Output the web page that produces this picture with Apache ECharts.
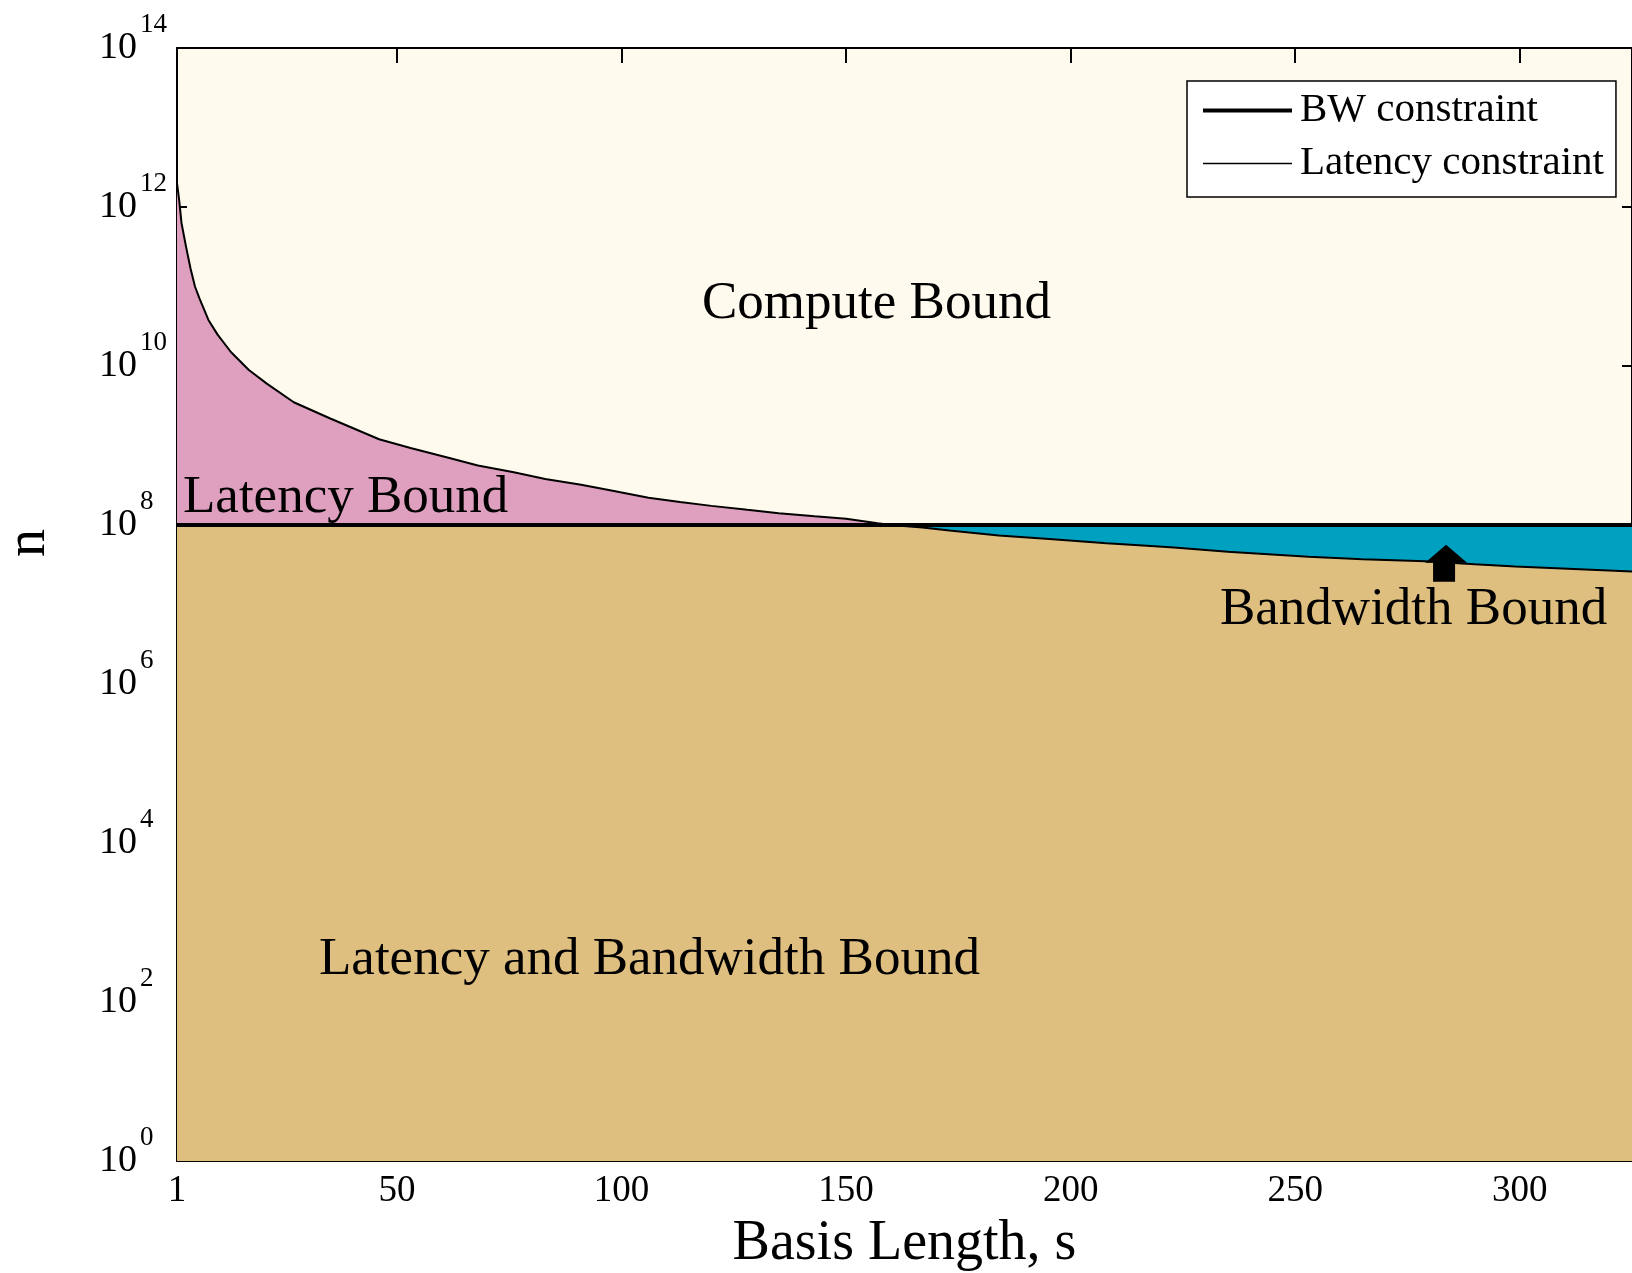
<!DOCTYPE html>
<html>
<head>
<meta charset="utf-8">
<script src="https://cdn.jsdelivr.net/npm/echarts@6/dist/echarts.min.js"></script>
<style>
  html, body { margin: 0; padding: 0; background: #fff; }
  #chart { width: 1632px; height: 1273px; }
</style>
</head>
<body>
<div id="chart"></div>
<script>
// Basis length s and the latency-constraint value of n at each s
const basisLength = [1, 1.5, 2, 3, 4, 5, 6, 8, 10, 13, 17, 21, 27, 35, 46, 53, 61, 68, 76, 83,
  91, 98, 106, 113, 120, 128, 135, 143, 150, 157, 160, 167, 173, 184, 196, 208, 217, 223,
  235, 253, 265, 279, 290, 299, 312, 325];
const latencyConstraint = [2.0e12, 1.2e12, 6.3e11, 3.2e11, 1.7e11, 1.0e11, 7.1e10, 3.8e10, 2.5e10,
  1.5e10, 8.9e9, 6.0e9, 3.5e9, 2.2e9, 1.2e9, 9.3e8, 7.1e8, 5.6e8, 4.6e8, 3.8e8,
  3.2e8, 2.7e8, 2.2e8, 1.95e8, 1.74e8, 1.55e8, 1.41e8, 1.29e8, 1.2e8, 1.05e8, 1.0e8,
  9.3e7, 8.5e7, 7.4e7, 6.6e7, 5.9e7, 5.5e7, 5.2e7, 4.6e7, 4.0e7, 3.7e7, 3.5e7, 3.2e7,
  3.0e7, 2.8e7, 2.6e7];
// Bandwidth constraint: constant n
const bwConstraint = 1e8;
// Axis tick labels
const sTicks = [1, 50, 100, 150, 200, 250, 300];
const nTicks = [1, 1e2, 1e4, 1e6, 1e8, 1e10, 1e12, 1e14];
// Where the "Bandwidth Bound" arrow points (s, n)
const arrowAt = [283.6, 3.3e7];

const FONT = '"Liberation Serif", "Times New Roman", serif';
const COMPUTE = '#FFFAEE';
const PINK = '#DFA0BF';
const TEAL = '#00A0C0';
const TAN = '#DFBF80';

const sMin = 1, sMax = 325;
const latencyPts = basisLength.map((s, i) => [s, latencyConstraint[i]]);
const lowerPts = basisLength.map((s, i) => [s, Math.min(latencyConstraint[i], bwConstraint)]);
const bwPts = [[sMin, bwConstraint], [sMax, bwConstraint]];

const axisLineStyle = { color: '#000', width: 2 };

const chart = echarts.init(document.getElementById('chart'), null, { renderer: 'canvas' });

const option = {
  animation: false,
  backgroundColor: '#fff',
  grid: {
    left: 177, top: 48, right: 0, bottom: 112,
    outerBoundsMode: 'none', containLabel: false,
    show: true, backgroundColor: COMPUTE, borderWidth: 0
  },
  legend: {
    orient: 'vertical',
    left: 1187, top: 81,
    selectedMode: false,
    data: [
      { name: 'BW constraint', icon: 'path://M0,0 H89 V4 H0 Z' },
      { name: 'Latency constraint', icon: 'path://M0,0 H89 V1.6 H0 Z' }
    ],
    itemWidth: 89, itemHeight: 14, itemGap: 12,
    padding: [9, 12, 13, 16],
    backgroundColor: '#fff',
    borderColor: '#000', borderWidth: 1.5, borderRadius: 0,
    textStyle: { fontSize: 41, fontFamily: FONT, color: '#000', lineHeight: 40, padding: [0, 0, 0, 3] }
  },
  xAxis: [
    {
      type: 'value', min: sMin, max: sMax, position: 'bottom',
      axisLine: { show: true, onZero: false, lineStyle: axisLineStyle },
      axisTick: { show: true, inside: true, length: 15, customValues: sTicks, lineStyle: axisLineStyle },
      axisLabel: { customValues: sTicks, fontSize: 37, fontFamily: FONT, color: '#000', margin: 12 },
      splitLine: { show: false },
      name: 'Basis Length, s', nameLocation: 'middle', nameGap: 55,
      nameTextStyle: { fontSize: 56, fontFamily: FONT, color: '#000' }
    },
    {
      type: 'value', min: sMin, max: sMax, position: 'top',
      axisLine: { show: true, onZero: false, lineStyle: axisLineStyle },
      axisTick: { show: true, inside: true, length: 15, customValues: sTicks, lineStyle: axisLineStyle },
      axisLabel: { show: false },
      splitLine: { show: false }
    }
  ],
  yAxis: [
    {
      type: 'log', logBase: 10, min: 1, max: 1e14, position: 'left',
      axisLine: { show: true, onZero: false, lineStyle: axisLineStyle },
      axisTick: { show: true, inside: true, length: 10, customValues: nTicks, lineStyle: axisLineStyle },
      axisLabel: {
        customValues: nTicks, align: 'left', margin: 78,
        formatter: v => '{b|10}{e|' + Math.round(Math.log10(v)) + '}',
        rich: {
          b: { fontSize: 38, fontFamily: FONT, color: '#000', lineHeight: 74 },
          e: { fontSize: 27, fontFamily: FONT, color: '#000', lineHeight: 26, verticalAlign: 'top', padding: [0, 0, 0, 3] }
        }
      },
      splitLine: { show: false },
      name: 'n', nameLocation: 'middle', nameGap: 120,
      nameTextStyle: { fontSize: 56, fontFamily: FONT, color: '#000', padding: [0, 0, 0, 123] }
    },
    {
      type: 'log', logBase: 10, min: 1, max: 1e14, position: 'right',
      axisLine: { show: true, onZero: false, lineStyle: axisLineStyle },
      axisTick: { show: true, inside: true, length: 10, customValues: nTicks, lineStyle: axisLineStyle },
      axisLabel: { show: false },
      splitLine: { show: false }
    }
  ],
  series: [
    // Latency-bound region: under the latency curve
    {
      type: 'line', name: 'latency region', data: latencyPts, symbol: 'none', silent: true,
      lineStyle: { width: 0, opacity: 0 },
      areaStyle: { color: PINK, opacity: 1, origin: 'start' }, z: 1
    },
    // Bandwidth-bound region: under the BW constraint
    {
      type: 'line', name: 'bandwidth region', data: bwPts, symbol: 'none', silent: true,
      lineStyle: { width: 0, opacity: 0 },
      areaStyle: { color: TEAL, opacity: 1, origin: 'start' }, z: 1
    },
    // Latency-and-bandwidth region: under both constraints
    {
      type: 'line', name: 'both region', data: lowerPts, symbol: 'none', silent: true,
      lineStyle: { width: 0, opacity: 0 },
      areaStyle: { color: TAN, opacity: 1, origin: 'start' }, z: 1
    },
    {
      type: 'line', name: 'Latency constraint', data: latencyPts, symbol: 'none', silent: true,
      lineStyle: { color: '#000', width: 2 }, itemStyle: { color: '#000' }, z: 3
    },
    {
      type: 'line', name: 'BW constraint', data: bwPts, symbol: 'none', silent: true,
      lineStyle: { color: '#000', width: 4 }, itemStyle: { color: '#000' }, z: 4
    },
    {
      type: 'scatter', name: 'arrow', data: [arrowAt], silent: true,
      symbol: 'path://M21,0 L42,18 L30,18 L30,37 L8,37 L8,18 L0,18 Z',
      symbolSize: [42, 37], itemStyle: { color: '#000', opacity: 1 }, z: 5
    }
  ],
  graphic: [
    { type: 'text', x: 702, y: 304, z: 100, silent: true,
      style: { text: 'Compute Bound', fontSize: 53, fontFamily: FONT, fill: '#000', align: 'left', verticalAlign: 'middle' } },
    { type: 'text', x: 183, y: 498, z: 100, silent: true,
      style: { text: 'Latency Bound', fontSize: 53, fontFamily: FONT, fill: '#000', align: 'left', verticalAlign: 'middle' } },
    { type: 'text', x: 1220, y: 610, z: 100, silent: true,
      style: { text: 'Bandwidth Bound', fontSize: 53, fontFamily: FONT, fill: '#000', align: 'left', verticalAlign: 'middle' } },
    { type: 'text', x: 319, y: 960, z: 100, silent: true,
      style: { text: 'Latency and Bandwidth Bound', fontSize: 53, fontFamily: FONT, fill: '#000', align: 'left', verticalAlign: 'middle' } }
  ]
};

chart.setOption(option);
</script>
</body>
</html>
